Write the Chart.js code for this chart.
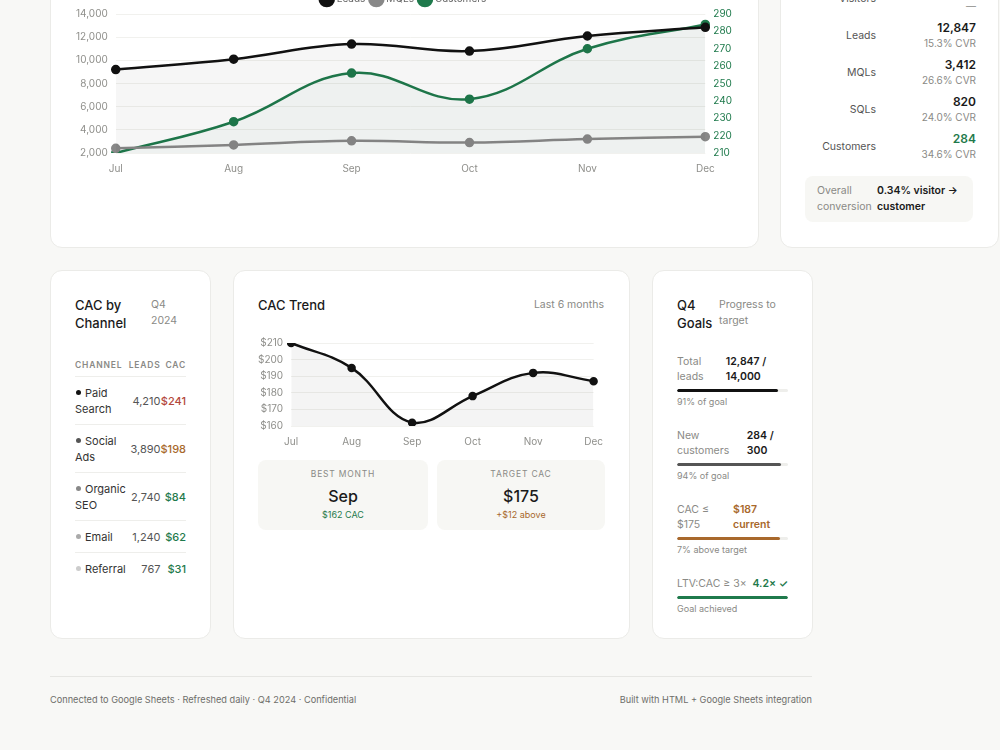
<!DOCTYPE html>
<html>
<head>
<meta charset="utf-8">
<script src="https://cdn.jsdelivr.net/npm/chart.js@4.4.1/dist/chart.umd.min.js"></script>
<style>
  html, body { margin: 0; padding: 0; }
  body {
    width: 1000px; height: 750px; overflow: hidden; position: relative;
    background: #f8f8f6; font-family: Inter, "Noto Sans", sans-serif; color: #1a1a1a;
  }
  .card {
    position: absolute; background: #fff; border: 1px solid #ebebe8;
    border-radius: 12px; box-sizing: border-box;
  }
  .title { font-size: 13px; line-height: 18px; font-weight: 500; color: #1a1a1a; }
  .sub { font-size: 10.5px; line-height: 16px; color: #8a8a86; }
  .muted { color: #8a8a86; }
  .green { color: #1f7a4c; }
  .brown { color: #a8682c; }
  .red { color: #b3473b; }

  /* funnel */
  .funnel-row { position: absolute; left: 24px; width: 171px; height: 37px; }
  .funnel-row .lbl { position: absolute; right: 100px; top: 6px; line-height: 16px; font-size: 10.5px; color: #555; }
  .funnel-row .val { position: absolute; right: 0; top: -2px; font-size: 12px; font-weight: 600; line-height: 16px; text-align: right; }
  .funnel-row .cvr { position: absolute; right: 0; top: 13px; font-size: 10px; color: #8a8a86; line-height: 16px; text-align: right; }
  .overall { position: absolute; left: 24px; top: 0; width: 168px; height: 46px; background: #f7f7f4; border-radius: 8px; font-size: 10.5px; }

  /* channel table */
  table { border-collapse: collapse; width: 111px; font-size: 11px; }
  th { font-size: 8.5px; letter-spacing: 0.8px; font-weight: 600; color: #8a8a86; text-align: left; padding: 0 0 6px 0; border-bottom: 1px solid #eeeeeb; }
  th.num, td.num { text-align: right; }
  td { padding: 7.5px 0; line-height: 16px; border-bottom: 1px solid #eeeeeb; vertical-align: middle; color: #333; }
  tr:last-child td { border-bottom: none; }
  td.leads { color: #555; }
  td.cac { font-weight: 500; }
  .dot { display: inline-block; width: 5px; height: 5px; border-radius: 50%; margin: 0 4px 2px 1px; }
  tr:nth-child(1) .dot { background: #111; }
  tr:nth-child(2) .dot { background: #555; }
  tr:nth-child(3) .dot { background: #888; }
  tr:nth-child(4) .dot { background: #aaa; }
  tr:nth-child(5) .dot { background: #ccc; }

  .stat { position: absolute; top: 189px; width: 170px; height: 70px; background: #f7f7f4; border-radius: 8px; text-align: center; }
  .stat .k { font-size: 8.5px; letter-spacing: 0.8px; color: #8a8a86; margin-top: 8px; line-height: 12px; }
  .stat .v { font-size: 16px; font-weight: 500; margin-top: 5px; line-height: 22px; }
  .stat .n { font-size: 9px; margin-top: 2px; line-height: 12px; }

  .goal { position: absolute; left: 24px; width: 111px; }
  .goal .head { display: flex; justify-content: space-between; gap: 6px; font-size: 10.5px; line-height: 15px; }
  .goal:last-child .head { white-space: nowrap; gap: 4px; }
  .goal .head .gl { color: #8a8a86; }
  .goal .head .gv { font-weight: 600; }
  .bar { height: 3px; background: #eeeeeb; border-radius: 2px; margin-top: 5px; overflow: hidden; }
  .bar div { height: 3px; border-radius: 2px; }
  .goal .note { font-size: 9px; line-height: 12px; margin-top: 4px; color: #8a8a86; }

  .footer-line { position: absolute; left: 50px; width: 762px; top: 676px; border-top: 1px solid #e6e6e3; }
  .foot { position: absolute; top: 693px; font-size: 9.2px; color: #6e6e6a; line-height: 14px; }
</style>
</head>
<body>

<!-- top row -->
<div class="card" style="left:50px; top:-140px; width:709px; height:388px;">
  <div class="title" style="position:absolute; left:24px; top:22px;">Funnel Trend</div>
</div>
<div style="position:absolute; left:68px; top:-12px; width:672px; height:189px;">
  <canvas id="funnelChart"></canvas>
</div>

<div class="card" style="left:780px; top:-140px; width:219px; height:388px;" id="funnelCard">
</div>

<!-- second row -->
<div class="card" style="left:50px; top:270px; width:161px; height:369px;">
  <div class="title" style="position:absolute; left:24px; top:25px; width:70px;">CAC by Channel</div>
  <div class="sub" style="position:absolute; left:100px; top:26px; width:40px;">Q4 2024</div>
  <table style="position:absolute; left:24px; top:89px;" id="channelTable">
    <thead><tr><th>CHANNEL</th><th class="num">LEADS</th><th class="num">CAC</th></tr></thead>
    <tbody></tbody>
  </table>
</div>

<div class="card" style="left:233px; top:270px; width:397px; height:369px;">
  <div class="title" style="position:absolute; left:24px; top:25px;">CAC Trend</div>
  <div class="sub" style="position:absolute; right:25px; top:26px;">Last 6 months</div>
  <div style="position:absolute; left:16px; top:58px; width:355px; height:121px;">
    <canvas id="cacChart"></canvas>
  </div>
  <div class="stat" style="left:24px;">
    <div class="k">BEST MONTH</div>
    <div class="v" id="bestMonth"></div>
    <div class="n green" id="bestCac"></div>
  </div>
  <div class="stat" style="left:203px; width:168px;">
    <div class="k">TARGET CAC</div>
    <div class="v" id="targetCac"></div>
    <div class="n brown" id="targetGap"></div>
  </div>
</div>

<div class="card" style="left:652px; top:270px; width:161px; height:369px;" id="goalsCard">
  <div class="title" style="position:absolute; left:24px; top:25px; width:40px;">Q4 Goals</div>
  <div class="sub" style="position:absolute; left:66px; top:26px; width:70px;">Progress to target</div>
</div>

<div class="footer-line"></div>
<div class="foot" style="left:50px;">Connected to Google Sheets · Refreshed daily · Q4 2024 · Confidential</div>
<div class="foot" style="right:188px;">Built with HTML + Google Sheets integration</div>

<script>
// monthly funnel data
const months = ['Jul', 'Aug', 'Sep', 'Oct', 'Nov', 'Dec'];
const leadsSeries = [9200, 10100, 11400, 10800, 12100, 12847];
const mqlSeries = [2400, 2700, 3050, 2900, 3200, 3412];
const customerSeries = [210, 228, 256, 241, 270, 284];

// left axis 2,000 - 14,000, right axis 210 - 290
const leadTicks = [2000, 4000, 6000, 8000, 10000, 12000, 14000];
const customerTicks = [210, 220, 230, 240, 250, 260, 270, 280, 290];

// funnel stages
const stageNames = ['Visitors', 'Leads', 'MQLs', 'SQLs', 'Customers'];
const stageValues = ['83,960', '12,847', '3,412', '820', '284'];
const stageCvr = ['—', '15.3% CVR', '26.6% CVR', '24.0% CVR', '34.6% CVR'];

// channels
const channels = ['Paid Search', 'Social Ads', 'Organic SEO', 'Email', 'Referral'];
const channelLeads = ['4,210', '3,890', '2,740', '1,240', '767'];
const channelCac = ['$241', '$198', '$84', '$62', '$31'];
const channelCacTone = ['red', 'brown', 'green', 'green', 'green'];

// CAC trend
const cacSeries = [210, 195, 162, 178, 192, 187];
const cacTicks = [160, 170, 180, 190, 200, 210];
const targetCac = 175;

// goals
const goalLabels = ['Total leads', 'New customers', 'CAC ≤ $175', 'LTV:CAC ≥ 3×'];
const goalValues = ['12,847 / 14,000', '284 / 300', '$187 current', '4.2× ✓'];
const goalPct = [91, 94, 93, 100];
const goalNotes = ['91% of goal', '94% of goal', '7% above target', 'Goal achieved'];
const goalTone = ['', '', 'brown', 'green'];

const GREEN = '#1f7a4c';

// ---- funnel card
(function () {
    const card = document.getElementById('funnelCard');
    stageNames.forEach((name, i) => {
        const row = document.createElement('div');
        row.className = 'funnel-row';
        row.style.top = (124 + i * 37) + 'px';
        row.innerHTML = '<div class="lbl">' + name + '</div>' +
            '<div class="val' + (name === 'Customers' ? ' green' : '') + '">' + stageValues[i] + '</div>' +
            '<div class="cvr">' + stageCvr[i] + '</div>';
        card.appendChild(row);
    });
    const box = document.createElement('div');
    box.className = 'overall';
    box.style.top = '315px';
    box.innerHTML = '<div style="position:absolute;left:12px;top:7px;line-height:16px;color:#8a8a86;width:58px;">Overall conversion</div>' +
        '<div style="position:absolute;left:72px;top:7px;line-height:16px;font-weight:600;width:96px;">0.34% visitor → customer</div>';
    card.appendChild(box);
})();

// ---- channel table
(function () {
    const tbody = document.querySelector('#channelTable tbody');
    channels.forEach((c, i) => {
        const tr = document.createElement('tr');
        tr.innerHTML = '<td><span class="dot"></span>' + c + '</td>' +
            '<td class="num leads">' + channelLeads[i] + '</td>' +
            '<td class="num cac ' + channelCacTone[i] + '">' + channelCac[i] + '</td>';
        tbody.appendChild(tr);
    });
})();

// ---- goals
(function () {
    const card = document.getElementById('goalsCard');
    const barColors = ['#111', '#555', '#a8682c', GREEN];
    goalLabels.forEach((g, i) => {
        const d = document.createElement('div');
        d.className = 'goal';
        d.style.top = (83 + i * 74) + 'px';
        const tone = goalTone[i];
        d.innerHTML = '<div class="head"><div class="gl">' + g + '</div><div class="gv ' + tone + '">' + goalValues[i] + '</div></div>' +
            '<div class="bar"><div style="width:' + goalPct[i] + '%;background:' + barColors[i] + '"></div></div>' +
            '<div class="note ' + tone + '">' + goalNotes[i] + '</div>';
        card.appendChild(d);
    });
})();

// ---- best month / target
(function () {
    let best = 0;
    cacSeries.forEach((v, i) => { if (v < cacSeries[best]) best = i; });
    const current = cacSeries[cacSeries.length - 1];
    document.getElementById('bestMonth').textContent = months[best];
    document.getElementById('bestCac').textContent = '$' + cacSeries[best] + ' CAC';
    document.getElementById('targetCac').textContent = '$' + targetCac;
    document.getElementById('targetGap').textContent = '+$' + (current - targetCac) + ' above';
})();

Chart.defaults.font.family = 'Inter, "Noto Sans", sans-serif';
Chart.defaults.font.size = 10;
Chart.defaults.color = '#8f8f8b';

// ---- funnel trend chart
new Chart(document.getElementById('funnelChart'), {
    type: 'line',
    data: {
        labels: months,
        datasets: [{
            label: 'Leads',
            data: leadsSeries,
            borderColor: '#111',
            backgroundColor: '#111',
            borderWidth: 2.5,
            pointRadius: 3.5,
            tension: 0.4,
            yAxisID: 'y',
            fill: { target: 'origin', above: 'rgba(0,0,0,0.035)' },
        }, {
            label: 'MQLs',
            data: mqlSeries,
            borderColor: '#888',
            backgroundColor: '#888',
            borderWidth: 2.5,
            pointRadius: 3.5,
            tension: 0.4,
            yAxisID: 'y',
        }, {
            label: 'Customers',
            data: customerSeries,
            borderColor: GREEN,
            backgroundColor: GREEN,
            borderWidth: 2.5,
            pointRadius: 3.5,
            tension: 0.4,
            yAxisID: 'y1',
            fill: { target: 'origin', above: 'rgba(31,122,76,0.035)' },
        }]
    },
    options: {
        responsive: true,
        maintainAspectRatio: false,
        animation: false,
        plugins: {
            legend: {
                display: true,
                labels: { usePointStyle: true, pointStyle: 'circle', boxWidth: 12, boxHeight: 12, padding: 6, color: '#666', font: { size: 10 } }
            },
            tooltip: { enabled: false }
        },
        scales: {
            x: {
                grid: { display: false },
                border: { display: false },
                ticks: { padding: 2 }
            },
            y: {
                min: leadTicks[0],
                max: leadTicks[leadTicks.length - 1],
                afterBuildTicks: (axis) => { axis.ticks = leadTicks.map(v => ({ value: v })); },
                ticks: { callback: v => v.toLocaleString('en-US'), padding: 8, autoSkip: false },
                grid: { color: '#f1f1ee', drawTicks: false },
                border: { display: false }
            },
            y1: {
                position: 'right',
                min: customerTicks[0],
                max: customerTicks[customerTicks.length - 1],
                afterBuildTicks: (axis) => { axis.ticks = customerTicks.map(v => ({ value: v })); },
                ticks: { color: GREEN, padding: 8, autoSkip: false },
                grid: { display: false, drawTicks: false },
                border: { display: false }
            }
        }
    }
});

// ---- CAC trend chart
new Chart(document.getElementById('cacChart'), {
    type: 'line',
    data: {
        labels: months,
        datasets: [{
            label: 'CAC',
            data: cacSeries,
            borderColor: '#111',
            backgroundColor: '#111',
            borderWidth: 2.5,
            pointRadius: 3,
            tension: 0.4,
            fill: { target: 'origin', above: 'rgba(0,0,0,0.045)' },
        }]
    },
    options: {
        responsive: true,
        maintainAspectRatio: false,
        animation: false,
        plugins: { legend: { display: false }, tooltip: { enabled: false } },
        scales: {
            x: {
                grid: { display: false },
                border: { display: false },
                ticks: { padding: 2 }
            },
            y: {
                min: cacTicks[0],
                max: cacTicks[cacTicks.length - 1],
                afterBuildTicks: (axis) => { axis.ticks = cacTicks.map(v => ({ value: v })); },
                ticks: { callback: v => '$' + v, padding: 8, autoSkip: false },
                grid: { color: '#f1f1ee', drawTicks: false },
                border: { display: false }
            }
        }
    }
});
</script>
</body>
</html>
